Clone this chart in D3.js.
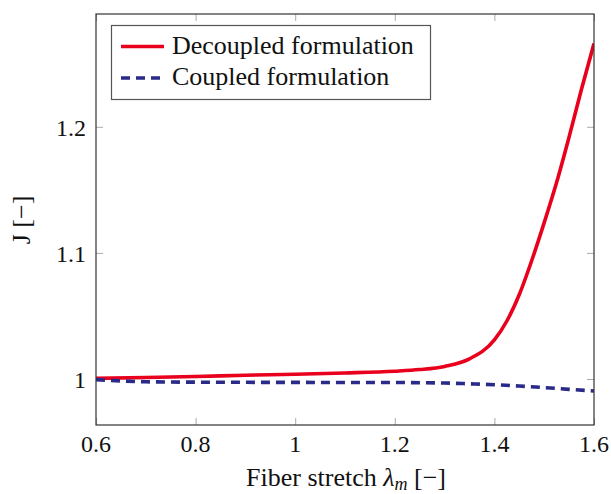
<!DOCTYPE html>
<html><head><meta charset="utf-8">
<script src="https://cdn.jsdelivr.net/npm/d3@7"></script>
<style>
body{margin:0;background:#fff;}
</style></head>
<body>
<svg id="c" width="611" height="494"></svg>
<script>
const xTicks = [0.6, 0.8, 1, 1.2, 1.4, 1.6];
const yTicks = [1, 1.1, 1.2];
const seriesNames = ["Decoupled formulation", "Coupled formulation"];
const stretch = [0.6, 0.7, 0.8, 0.9, 1.0, 1.1, 1.2, 1.25, 1.3, 1.35, 1.4, 1.425, 1.45, 1.475, 1.5, 1.525, 1.55, 1.575, 1.6];
const decoupled = [1.0005, 1.0012, 1.002, 1.003, 1.0038, 1.0048, 1.0062, 1.0075, 1.0100, 1.016, 1.031, 1.046, 1.067, 1.094, 1.124, 1.156, 1.192, 1.230, 1.266];
const coupledX = [0.6, 0.65, 0.7, 0.8, 1.0, 1.2, 1.3, 1.35, 1.4, 1.45, 1.5, 1.55, 1.6];
const coupled = [0.9995, 0.9985, 0.9978, 0.9975, 0.9973, 0.9972, 0.9968, 0.9962, 0.9955, 0.9944, 0.9932, 0.9918, 0.9905];

const FONT = "Liberation Serif";
const svg = d3.select("#c");
const L = 96, R = 594, T = 14, B = 425;
const x = d3.scaleLinear().domain([0.6, 1.6]).range([L, R]);
const y = d3.scaleLinear().domain([1, 1.2]).range([379, 126.8]);

const tickColor = "#aaa";
const g = svg.append("g");
function styleAxis(s){ s.select(".domain").remove(); s.selectAll("line").attr("stroke", tickColor); }
g.append("g").attr("transform", `translate(0,${B})`)
  .call(d3.axisBottom(x).tickValues(xTicks).tickSize(-7).tickFormat("")).call(styleAxis);
g.append("g").attr("transform", `translate(0,${T})`)
  .call(d3.axisTop(x).tickValues(xTicks).tickSize(-7).tickFormat("")).call(styleAxis);
g.append("g").attr("transform", `translate(${L},0)`)
  .call(d3.axisLeft(y).tickValues(yTicks).tickSize(-7).tickFormat("")).call(styleAxis);
g.append("g").attr("transform", `translate(${R},0)`)
  .call(d3.axisRight(y).tickValues(yTicks).tickSize(-7).tickFormat("")).call(styleAxis);

// tick labels
svg.append("g").selectAll("text").data(xTicks).join("text")
  .attr("x", d => x(d)).attr("y", B + 27).attr("text-anchor", "middle")
  .attr("font-family", FONT).attr("fill", "#111")
  .attr("font-size", 24).text(d => d3.format("")(d));
svg.append("g").selectAll("text").data(yTicks).join("text")
  .attr("x", L - 10).attr("y", d => y(d) + 9).attr("text-anchor", "end")
  .attr("font-family", FONT).attr("fill", "#111")
  .attr("font-size", 24).text(d => d3.format("")(d));

// lines
svg.append("defs").append("clipPath").attr("id", "clip")
  .append("rect").attr("x", L).attr("y", T).attr("width", R - L).attr("height", B - T);
const line = d3.line().curve(d3.curveMonotoneX);
svg.append("path").attr("clip-path", "url(#clip)")
  .attr("d", line(stretch.map((s, i) => [x(s), y(decoupled[i])])))
  .attr("fill", "none").attr("stroke", "#e8001c").attr("stroke-width", 3.6);
svg.append("path").attr("clip-path", "url(#clip)")
  .attr("d", line(coupledX.map((s, i) => [x(s), y(coupled[i])])))
  .attr("fill", "none").attr("stroke", "#2a2a88").attr("stroke-width", 3.6)
  .attr("stroke-dasharray", "9,6");

// frame
svg.append("rect").attr("x", L).attr("y", T).attr("width", R - L).attr("height", B - T)
  .attr("fill", "none").attr("stroke", "#333").attr("stroke-width", 1.2);

// legend
const lg = svg.append("g");
lg.append("rect").attr("x", 111.5).attr("y", 25.5).attr("width", 319).attr("height", 74)
  .attr("fill", "#fff").attr("stroke", "#555").attr("stroke-width", 1.2);
const colors = ["#e8001c", "#2a2a88"];
seriesNames.forEach((n, i) => {
  const yy = 46.5 + i * 31.5;
  lg.append("line").attr("x1", 121).attr("x2", 164).attr("y1", yy).attr("y2", yy)
    .attr("stroke", colors[i]).attr("stroke-width", 3.6)
    .attr("stroke-dasharray", i === 1 ? "9,6" : null);
  lg.append("text").attr("x", 172).attr("y", yy + 7).attr("font-size", 26)
    .attr("font-family", FONT).attr("fill", "#111").text(n);
});

// axis labels
const xl = svg.append("text").attr("x", 346).attr("y", 486).attr("text-anchor", "middle")
  .attr("font-size", 26).attr("font-family", FONT).attr("fill", "#111");
xl.append("tspan").text("Fiber stretch ");
xl.append("tspan").attr("font-style", "italic").text("λ");
xl.append("tspan").attr("font-style", "italic").attr("font-size", 18).attr("dy", 4).text("m");
xl.append("tspan").attr("dy", -4).text(" [−]");
svg.append("text").attr("transform", "translate(30,220) rotate(-90)").attr("text-anchor", "middle")
  .attr("font-size", 26).attr("font-family", FONT).attr("fill", "#111").text("J [−]");
</script>
</body></html>
